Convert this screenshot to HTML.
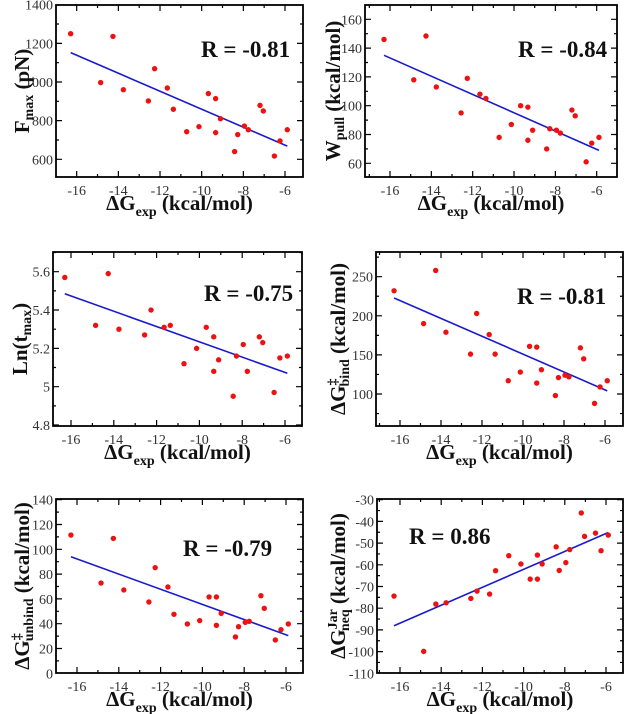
<!DOCTYPE html>
<html><head><meta charset="utf-8"><style>
html,body{margin:0;padding:0;background:#fff;}
svg{display:block;font-family:"Liberation Serif",serif;}
.tick{font-size:14px;fill:#333;}
.ttl{font-size:21px;font-weight:bold;fill:#111;}
.rl{font-size:23px;font-weight:bold;fill:#111;}
</style></head><body>
<svg id="fig" width="625" height="714" viewBox="0 0 625 714" xmlns="http://www.w3.org/2000/svg"></svg>
<script>
// shared x data (ΔGexp)
const xExp = [-16.29,-14.85,-14.26,-13.76,-12.56,-12.26,-11.65,-11.36,-10.72,-10.13,-9.68,-9.33,-9.33,-9.10,-8.42,-8.27,-7.95,-7.76,-7.2,-7.04,-6.51,-6.24,-5.89];
const yFmax = [1250,997,1236,960,902,1069,969,859,743,769,940,738,914,810,640,728,772,753,879,850,617,695,753];
const yWpull = [146,118,148.4,113,95,119,108,105,78,87,100,76,99,83,70,84,83,81,97,93,61,74,78];
const yLn = [5.57,5.32,5.59,5.30,5.27,5.40,5.31,5.32,5.12,5.20,5.31,5.08,5.26,5.14,4.95,5.16,5.22,5.08,5.26,5.23,4.97,5.15,5.16];
const yBind = [232,190,258,179,151,203,176,151,117,128,161,114,160,131,98,121,124,122,159,145,88,109,117];
const yUnbind = [111.5,72.8,108.8,67.2,57.5,85.2,69.6,47.6,39.8,42.5,61.6,38.7,61.6,48.4,29.3,37.6,41.1,41.9,62.6,52.4,26.9,35.2,39.8];
const yJar = [-74.4,-99.9,-78.1,-77.5,-75.5,-72.1,-73.5,-62.7,-55.8,-59.6,-66.6,-66.6,-55.5,-59.6,-51.7,-62.6,-59.0,-53.0,-36.1,-46.9,-45.4,-53.5,-46.3];
// fitted line endpoints [x0,x1] and [y0,y1]
const fitX = [-16.29,-5.89];
const fitFmax = [1152,668];
const fitWpull = [135,69];
const fitLn = [5.485,5.07];
const fitBind = [222.8,104];
const fitUnbind = [94,30.4];
const fitJar = [-88.1,-45.1];
const xTicks = [-16,-14,-12,-10,-8,-6];
const rLabels = ["R = -0.81","R = -0.84","R = -0.75","R = -0.81","R = -0.79","R = 0.86"];

const NS="http://www.w3.org/2000/svg";
const svg=document.getElementById('fig');
function mk(tag,attrs,parent){const e=document.createElementNS(NS,tag);for(const k in attrs)e.setAttribute(k,attrs[k]);(parent||svg).appendChild(e);return e;}

const panels=[
 {name:'fmax',box:[56,303,5,177],xp:[76.7,285],yv:[1400,600],yp:[4.7,159.3],ymin:500,ymax:1400,maj:200,min:100,fmt:v=>v,ys:yFmax,fit:fitFmax,r:[201,57],yt:{x:29,parts:[['F',0,21],['max',4,14],[' (pN)',-4,21]]}},
 {name:'wpull',box:[365,617,5,177],xp:[390,596.7],yv:[160,60],yp:[19.3,163.3],ymin:50,ymax:170,maj:20,min:10,fmt:v=>v,ys:yWpull,fit:fitWpull,r:[518,57],yt:{x:340,parts:[['W',0,21],['pull',4,14],[' (kcal/mol)',-4,21]]}},
 {name:'lntmax',box:[53,302,252,426],xp:[71,285],yv:[5.6,4.8],yp:[271.7,425],ymin:4.8,ymax:5.7,maj:0.2,min:0.1,fmt:v=>{const s=(Math.round(v*10)/10).toString();return s;},ys:yLn,fit:fitLn,r:[204,301],yt:{x:27,parts:[['Ln(t',0,21],['max',4,14],[')',-4,21]]}},
 {name:'bind',box:[376,623,252,426],xp:[400,605],yv:[250,100],yp:[276.7,394],ymin:60,ymax:280,maj:50,min:25,fmt:v=>v,ys:yBind,fit:fitBind,r:[517,304],yt:{x:345,parts:[['ΔG',0,21],['‡',-8,14],['bind',12,14],[' (kcal/mol)',-4,21]],sup:true}},
 {name:'unbind',box:[56,303,499,673],xp:[77,286],yv:[140,0],yp:[499.7,673.3],ymin:0,ymax:140,maj:20,min:10,fmt:v=>v,ys:yUnbind,fit:fitUnbind,r:[183,556],yt:{x:29,parts:[['ΔG',0,21],['‡',-8,14],['unbind',12,14],[' (kcal/mol)',-4,21]],sup:true}},
 {name:'jar',box:[377,623,499,673],xp:[400,606],yv:[-30,-110],yp:[499.7,673.3],ymin:-110,ymax:-30,maj:10,min:5,fmt:v=>v,ys:yJar,fit:fitJar,r:[409,544],yt:{x:345,parts:[['ΔG',0,21],['Jar',-8,14],['neq',12,14],[' (kcal/mol)',-4,21]],sup:true}}
];

panels.forEach((p,pi)=>{
 const [L,R,T,B]=p.box;
 const sx=v=>p.xp[0]+(v+16)*(p.xp[1]-p.xp[0])/10;
 const sy=v=>p.yp[0]+(v-p.yv[0])*(p.yp[1]-p.yp[0])/(p.yv[1]-p.yv[0]);
 const g=mk('g',{});
 
 
 for(let v=-17;v<=-5;v++){const x=sx(v);if(x<L+0.5||x>R-0.5)continue;const len=(v%2===0)?6:3;
  const t=mk('path',{d:`M${x},${B}V${B-len}M${x},${T}V${T+len}`,stroke:'#000','stroke-width':1.2},g);
  }
 xTicks.forEach(v=>{const t=mk('text',{x:sx(v),y:B+18,'text-anchor':'middle',class:'tick'},g);t.textContent=v;
  });
 const base=Math.ceil(p.ymin/p.min-1e-6)*p.min;
 for(let v=base;v<=p.ymax+1e-9;v+=p.min){const y=sy(v);if(y<T+0.5||y>B-0.5)continue;const r=Math.abs(v/p.maj-Math.round(v/p.maj))<1e-6;const len=r?6:3;
  const t=mk('path',{d:`M${L},${y}H${L+len}M${R},${y}H${R-len}`,stroke:'#000','stroke-width':1.2},g);
  }
 for(let v=Math.ceil(p.ymin/p.maj-1e-6)*p.maj;v<=p.ymax+1e-9;v+=p.maj){const y=sy(v);if(y>B+1||y<T-1)continue;
  const t=mk('text',{x:L-3,y:y+5,'text-anchor':'end',class:'tick'},g);t.textContent=p.fmt(Math.round(v*100)/100);
  }
 const fr=mk('rect',{x:L,y:T,width:R-L,height:B-T,fill:'none',stroke:'#000','stroke-width':1.8},g);
 
 const ln=mk('line',{x1:sx(fitX[0]),y1:sy(p.fit[0]),x2:sx(fitX[1]),y2:sy(p.fit[1]),stroke:'#1a1acc','stroke-width':1.6},g);
 
 xExp.forEach((xv,i)=>{const c=mk('circle',{cx:sx(xv),cy:sy(p.ys[i]),r:2.7,fill:'#ee1111'},g);
  });
 const rl=mk('text',{x:p.r[0],y:p.r[1],class:'rl'},g);rl.textContent=rLabels[pi];
 
 const xt=mk('text',{x:(L+R)/2,y:B+33,'text-anchor':'middle',class:'ttl'},g);
 
 const a=mk('tspan',{},xt);a.textContent='ΔG';
 const b=mk('tspan',{dy:6,'font-size':14},xt);b.textContent='exp';
 const c2=mk('tspan',{dy:-6},xt);c2.textContent=' (kcal/mol)';
 const cy=(T+B)/2;
 const yt=mk('text',{x:0,y:0,'text-anchor':'middle',class:'ttl',transform:`translate(${p.yt.x},${cy}) rotate(-90)`},g);
 
 p.yt.parts.forEach((pt,k)=>{const s=mk('tspan',{dy:pt[1],'font-size':pt[2]},yt);
  if(p.yt.sup&&k===2){s.setAttribute('dx',p.yt.parts[1][0]==='Jar'?-22:-8);}
  s.textContent=pt[0];});
});
</script>
</body></html>
